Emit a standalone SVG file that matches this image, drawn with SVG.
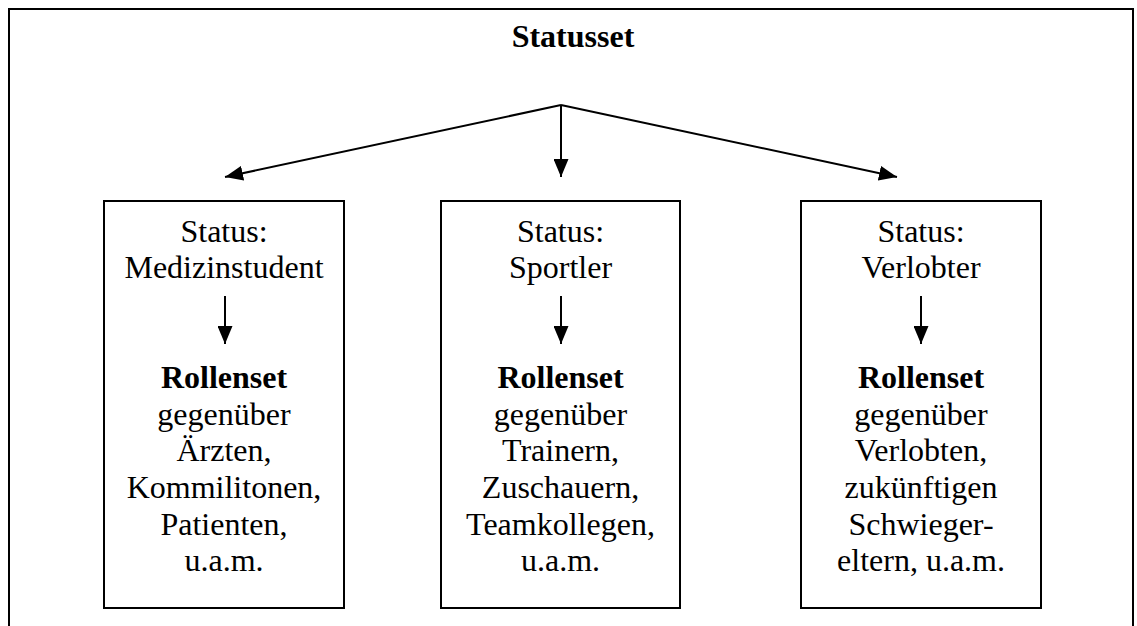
<svg xmlns="http://www.w3.org/2000/svg" width="1137" height="626" viewBox="0 0 1137 626">
<style>
text{font-family:"Liberation Serif","Times New Roman",serif;font-size:32px;fill:#000;text-anchor:middle}
.b{font-weight:bold}
.box{fill:#fff;stroke:#000;stroke-width:2}
.con{stroke:#000;stroke-width:2;fill:none}
</style>
<defs>
<marker id="ah" markerUnits="userSpaceOnUse" markerWidth="18" markerHeight="15" refX="18" refY="7.5" orient="auto">
<path d="M0,0 L18,7.5 L0,15 Z" fill="#000"/>
</marker>
</defs>
<rect x="9" y="9" width="1124" height="640" fill="#fff" stroke="#000" stroke-width="2"/>
<g id="statusset">
<text class="b" x="573" y="47">Statusset</text>
</g>
<g id="box1">
<rect class="box" x="104" y="201" width="240" height="407"/>
<text x="224" y="241.5">Status:</text>
<text x="224" y="278">Medizinstudent</text>
<text class="b" x="224" y="388">Rollenset</text>
<text x="224" y="424.5">gegenüber</text>
<text x="224" y="461">Ärzten,</text>
<text x="224" y="498">Kommilitonen,</text>
<text x="224" y="534.5">Patienten,</text>
<text x="224" y="571">u.a.m.</text>
</g>
<g id="box2">
<rect class="box" x="441" y="201" width="239" height="407"/>
<text x="560.5" y="241.5">Status:</text>
<text x="560.5" y="278">Sportler</text>
<text class="b" x="560.5" y="388">Rollenset</text>
<text x="560.5" y="424.5">gegenüber</text>
<text x="560.5" y="461">Trainern,</text>
<text x="560.5" y="498">Zuschauern,</text>
<text x="560.5" y="534.5">Teamkollegen,</text>
<text x="560.5" y="571">u.a.m.</text>
</g>
<g id="box3">
<rect class="box" x="801" y="201" width="240" height="407"/>
<text x="921" y="241.5">Status:</text>
<text x="921" y="278">Verlobter</text>
<text class="b" x="921" y="388">Rollenset</text>
<text x="921" y="424.5">gegenüber</text>
<text x="921" y="461">Verlobten,</text>
<text x="921" y="498">zukünftigen</text>
<text x="921" y="534.5">Schwieger-</text>
<text x="921" y="571">eltern, u.a.m.</text>
</g>
<g id="connectors">
<line class="con" x1="561" y1="105" x2="225" y2="177" marker-end="url(#ah)"/>
<line class="con" x1="561" y1="105" x2="561" y2="177" marker-end="url(#ah)"/>
<line class="con" x1="561" y1="105" x2="897" y2="177" marker-end="url(#ah)"/>
<line class="con" x1="225" y1="296" x2="225" y2="344" marker-end="url(#ah)"/>
<line class="con" x1="561" y1="296" x2="561" y2="344" marker-end="url(#ah)"/>
<line class="con" x1="921" y1="296" x2="921" y2="344" marker-end="url(#ah)"/>
</g>
</svg>
